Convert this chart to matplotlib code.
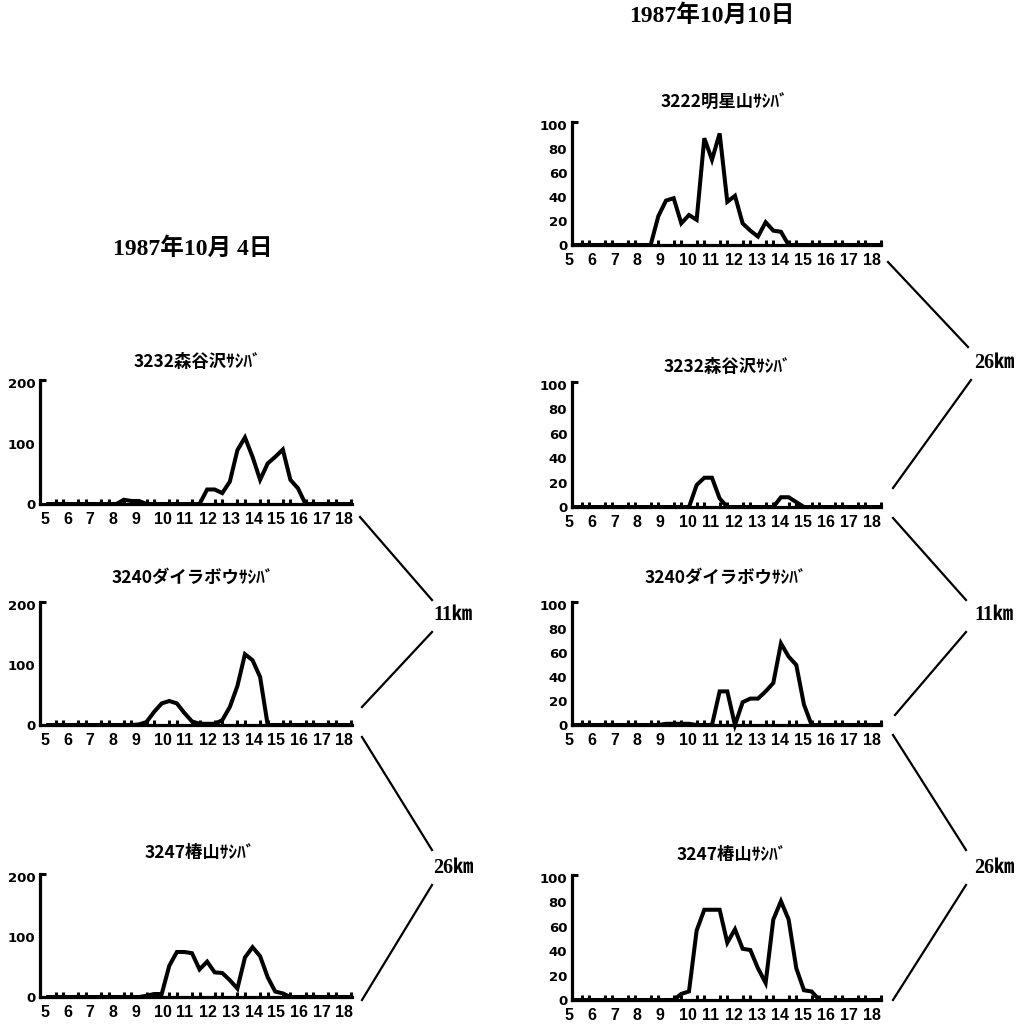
import numpy as np
import matplotlib
matplotlib.use("Agg")
import matplotlib.pyplot as plt
from matplotlib.transforms import ScaledTranslation
from matplotlib.lines import Line2D

# ---------------- data ----------------
# 20-minute observation slots from 5:00 to 18:20
times = np.arange(5, 18.34, 1 / 3)
hour_ticks = list(range(5, 19))

date_left = "1987年10月 4日"
date_right = "1987年10月10日"

title_L1 = "3232森谷沢ｻｼﾊﾞ"
title_L2 = "3240ダイラボウｻｼﾊﾞ"
title_L3 = "3247椿山ｻｼﾊﾞ"
title_R1 = "3222明星山ｻｼﾊﾞ"
title_R2 = "3232森谷沢ｻｼﾊﾞ"
title_R3 = "3240ダイラボウｻｼﾊﾞ"
title_R4 = "3247椿山ｻｼﾊﾞ"

counts_L1 = [0, 0, 0, 0, 0, 0, 0, 0, 0, 0,
             7, 5, 5, 0, 0, 0, 0, 0, 0, 0,
             0, 24, 24, 18, 37, 89, 110, 78, 40, 67,
             78, 90, 40, 26, 0, 0, 0, 0, 0, 0, 0]
counts_L2 = [0, 0, 0, 0, 0, 0, 0, 0, 0, 0,
             0, 0, 1, 5, 22, 36, 40, 36, 20, 6,
             2, 2, 2, 8, 30, 65, 118, 108, 80, 0,
             0, 0, 0, 0, 0, 0, 0, 0, 0, 0, 0]
counts_L3 = [0, 0, 0, 0, 0, 0, 0, 0, 0, 0,
             0, 0, 0, 2, 5, 5, 52, 75, 75, 73,
             46, 59, 41, 40, 28, 14, 66, 83, 68, 33,
             9, 6, 0, 0, 0, 0, 0, 0, 0, 0, 0]
counts_R1 = [0, 0, 0, 0, 0, 0, 0, 0, 0, 0,
             0, 24, 37, 39, 18, 25, 21, 89, 71, 93,
             36, 41, 18, 12, 7, 19, 12, 11, 0, 0,
             0, 0, 0, 0, 0, 0, 0, 0, 0, 0, 0]
counts_R2 = [0, 0, 0, 0, 0, 0, 0, 0, 0, 0,
             0, 0, 0, 0, 0, 0, 18, 24, 24, 7,
             0, 0, 0, 0, 0, 0, 0, 8, 8, 4,
             0, 0, 0, 0, 0, 0, 0, 0, 0, 0, 0]
counts_R3 = [0, 0, 0, 0, 0, 0, 0, 0, 0, 0,
             0, 0, 1, 1, 1, 1, 0, 0, 0, 28,
             28, 0, 19, 22, 22, 28, 35, 68, 57, 50,
             17, 0, 0, 0, 0, 0, 0, 0, 0, 0, 0]
counts_R4 = [0, 0, 0, 0, 0, 0, 0, 0, 0, 0,
             0, 0, 0, 0, 5, 7, 57, 74, 74, 74,
             47, 58, 42, 41, 26, 14, 66, 81, 66, 26,
             8, 7, 0, 0, 0, 0, 0, 0, 0, 0, 0]

yticks_left = [0, 100, 200]
yticks_right = [0, 20, 40, 60, 80, 100]

km_right = ["26㎞", "11㎞", "26㎞"]
km_left = ["11㎞", "26㎞"]

# ---------------- figure ----------------
W, H = 1024, 1030
fig = plt.figure(figsize=(W / 100, H / 100), dpi=100)
fig.patch.set_facecolor("white")

XFONT, XSIZE = ["Liberation Sans", "DejaVu Sans"], 11.5
CJK = "Noto Sans CJK JP"
SERIF = ["Liberation Serif", CJK, "DejaVu Sans"]


def fx(x):
    return x / W


def fy(y):
    return 1 - y / H


def panel(left, right, top, bottom, xlim, ymax, counts, yticks, title, tpos, xoff):
    ax = fig.add_axes([fx(left), fy(bottom), fx(right - left), (bottom - top) / H])
    ax.plot(times, counts, color="black", lw=2.9, solid_joinstyle="miter",
            clip_on=False, zorder=5)
    ax.set_xlim(*xlim)
    ax.set_ylim(0, ymax)
    for s in ("top", "right"):
        ax.spines[s].set_visible(False)
    for s in ("left", "bottom"):
        ax.spines[s].set_linewidth(2.3)
    ax.set_xticks(hour_ticks)
    ax.set_xticklabels([str(h) for h in hour_ticks])
    ax.set_xticks(times, minor=True)
    ax.tick_params(axis="x", which="major", length=0, pad=5.5)
    ax.tick_params(axis="x", which="minor", direction="in", length=3.5, width=2.2)
    ax.set_yticks(yticks)
    ax.set_yticklabels([str(v) for v in yticks])
    ax.set_yticks([ymax], minor=True)
    ax.tick_params(axis="y", which="major", length=0, pad=3.5)
    ax.tick_params(axis="y", which="minor", direction="in", length=4, width=2.2)
    for lab in ax.get_xticklabels():
        lab.set_fontfamily(XFONT)
        lab.set_fontsize(XSIZE)
        lab.set_fontweight("bold")
        lab.set_ha("left")
        lab.set_transform(lab.get_transform() +
                          ScaledTranslation(xoff / 100, 0, fig.dpi_scale_trans))
    for lab in ax.get_yticklabels():
        lab.set_fontfamily("DejaVu Sans")
        lab.set_fontsize(9.5)
        lab.set_fontweight("bold")
    fig.text(fx(tpos[0]), fy(tpos[1]), title, ha="center", va="center",
             fontsize=12.5, fontweight="bold", family=[CJK, "DejaVu Sans"])
    return ax


L_X = (4.64, 18.38)
R_X = (4.913, 18.35)

panel(40, 352, 380, 504, L_X, 205, counts_L1, yticks_left, title_L1, (197, 362), -8)
panel(40, 352, 602, 725, L_X, 205, counts_L2, yticks_left, title_L2, (193, 578), -8)
panel(40, 352, 874, 997, L_X, 205, counts_L3, yticks_left, title_L3, (200, 853), -8)

panel(572, 881, 122, 245, R_X, 102.5, counts_R1, yticks_right, title_R1, (724, 103), -10)
panel(572, 881, 382, 507, R_X, 102.5, counts_R2, yticks_right, title_R2, (727, 367), -10)
panel(572, 881, 602, 725, R_X, 102.5, counts_R3, yticks_right, title_R3, (726, 578), -10)
panel(572, 881, 875, 1000, R_X, 102.5, counts_R4, yticks_right, title_R4, (732, 855), -10)

# dates
fig.text(fx(193), fy(249), date_left, ha="center", va="center",
         fontsize=17, fontweight="bold", family=SERIF)
fig.text(fx(712), fy(16), date_right, ha="center", va="center",
         fontsize=17, fontweight="bold", family=SERIF)

# distance labels
for lab, y in zip(km_right, (363, 615, 868)):
    fig.text(fx(994), fy(y), lab, ha="center", va="center",
             fontsize=14.5, fontweight="bold", family=SERIF)
for lab, y in zip(km_left, (615, 868)):
    fig.text(fx(453), fy(y), lab, ha="center", va="center",
             fontsize=14.5, fontweight="bold", family=SERIF)

# connector lines between stations
segments = [
    ((888, 262), (968, 347)), ((971, 380), (893, 488)),
    ((893, 518), (966, 600)), ((966, 632), (895, 715)),
    ((893, 735), (966, 850)), ((966, 885), (893, 1000)),
    ((360, 517), (432, 600)), ((432, 632), (362, 707)),
    ((362, 737), (432, 850)), ((432, 885), (362, 1000)),
]
for (x1, y1), (x2, y2) in segments:
    fig.add_artist(Line2D([fx(x1), fx(x2)], [fy(y1), fy(y2)],
                          transform=fig.transFigure, color="black", lw=1.6))

fig.savefig("out.png", dpi=100, facecolor="white")
